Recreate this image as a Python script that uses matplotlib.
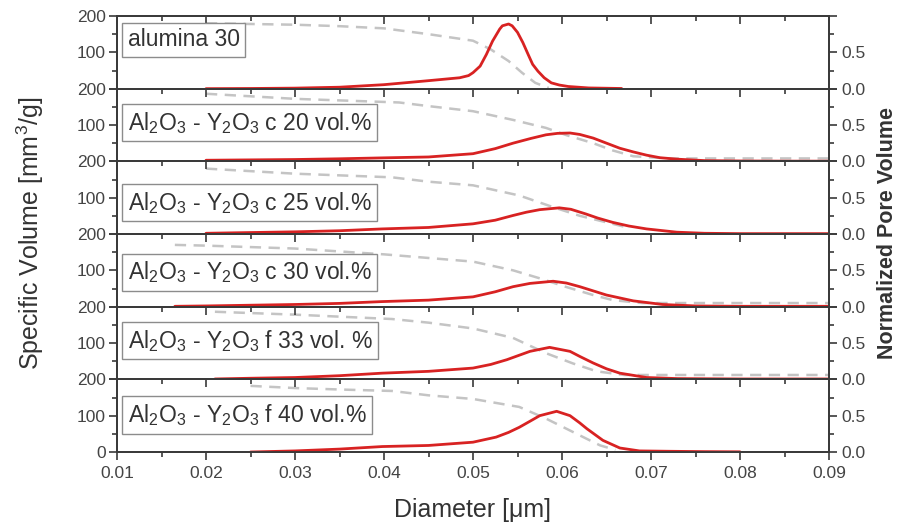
import matplotlib
matplotlib.use('Agg')
import matplotlib.pyplot as plt
from matplotlib.ticker import MultipleLocator, FixedLocator

plt.rcParams['font.family'] = ['Liberation Sans', 'DejaVu Sans']
plt.rcParams['mathtext.fontset'] = 'custom'
plt.rcParams['mathtext.rm'] = 'Liberation Sans'
plt.rcParams['mathtext.it'] = 'Liberation Sans:italic'
plt.rcParams['mathtext.bf'] = 'Liberation Sans:bold'

# sample names, one per panel (top to bottom)
labels = ['alumina 30',
          r'Al$_2$O$_3$ - Y$_2$O$_3$ c 20 vol.%',
          r'Al$_2$O$_3$ - Y$_2$O$_3$ c 25 vol.%',
          r'Al$_2$O$_3$ - Y$_2$O$_3$ c 30 vol.%',
          r'Al$_2$O$_3$ - Y$_2$O$_3$ f 33 vol. %',
          r'Al$_2$O$_3$ - Y$_2$O$_3$ f 40 vol.%']

# specific volume (mm3/g) vs diameter (um)
d_alu30 = [0.020, 0.025, 0.030, 0.035, 0.040, 0.045, 0.0485, 0.0495, 0.050, 0.0508, 0.0515, 0.0522, 0.053,
           0.0533, 0.054, 0.0544, 0.055, 0.0556, 0.0562, 0.0567, 0.0573, 0.058, 0.0588, 0.0597, 0.0607, 0.063, 0.0667]
v_alu30 = [0, 0.5, 1.5, 4, 11, 22, 30, 36, 44, 62, 94, 131, 164,
           173, 178, 173, 155, 127, 94, 67, 48, 30, 16, 10, 6, 2, 0.5]
d_c20 = [0.020, 0.025, 0.030, 0.035, 0.0398, 0.045, 0.050, 0.0525, 0.0545, 0.0565, 0.0582, 0.0595,
         0.0609, 0.062, 0.0635, 0.065, 0.0665, 0.068, 0.0695, 0.071, 0.0729, 0.076, 0.080, 0.085, 0.090]
v_c20 = [3, 4, 5, 7, 9.5, 12, 21, 35, 50, 63, 73, 77,
         78, 74, 64, 50, 36, 26, 17, 10, 6, 2, 1, 0.5, 0.5]
d_c25 = [0.020, 0.025, 0.030, 0.035, 0.0398, 0.045, 0.050, 0.0525, 0.0545, 0.056, 0.0575, 0.0597, 0.061, 0.0627,
         0.064, 0.0657, 0.0675, 0.0695, 0.0729, 0.076, 0.080, 0.090]
v_c25 = [2, 4, 6, 9, 14, 18, 28, 38, 51, 60, 67, 72, 68, 55,
         44, 32, 22, 14, 5, 2, 1, 1]
d_c30 = [0.0165, 0.020, 0.025, 0.030, 0.035, 0.0398, 0.045, 0.050, 0.0525, 0.0545, 0.0564, 0.059, 0.0605, 0.062,
         0.065, 0.068, 0.0713, 0.075, 0.080, 0.090]
v_c30 = [1, 2, 4, 6, 9, 14, 18, 27, 41, 55, 64, 70, 65, 55,
         32, 16, 6, 2, 1, 1]
d_f33 = [0.021, 0.025, 0.030, 0.035, 0.0398, 0.045, 0.050, 0.052, 0.0538, 0.0564, 0.0586, 0.0609, 0.062, 0.0635,
         0.065, 0.0665, 0.0695, 0.073, 0.080, 0.090]
v_f33 = [1, 3, 5, 10, 17, 22, 31, 41, 54, 77, 88, 77, 63, 45,
         29, 17, 5, 2, 1, 1]
d_f40 = [0.025, 0.030, 0.035, 0.0398, 0.045, 0.050, 0.0526, 0.054, 0.0552, 0.0565, 0.0575, 0.0594, 0.0609, 0.062,
         0.0628, 0.0646, 0.0665, 0.0687, 0.072, 0.076, 0.080]
v_f40 = [0, 3, 8, 15, 18, 27, 41, 54, 68, 86, 100, 112, 100, 80,
         64, 32, 11, 3, 2, 1, 0.5]

# normalized cumulative pore volume
cd_alu30 = [0.020, 0.025, 0.030, 0.035, 0.040, 0.045, 0.050, 0.052, 0.054, 0.0555, 0.057, 0.0585]
cv_alu30 = [0.90, 0.89, 0.88, 0.86, 0.83, 0.75, 0.66, 0.54, 0.38, 0.22, 0.08, 0.01]
cd_c20 = [0.020, 0.030, 0.0417, 0.045, 0.050, 0.0545, 0.0582, 0.0605, 0.0635, 0.0657, 0.068, 0.072, 0.080, 0.090]
cv_c20 = [0.93, 0.86, 0.81, 0.76, 0.69, 0.57, 0.46, 0.36, 0.25, 0.15, 0.07, 0.04, 0.04, 0.04]
cd_c25 = [0.020, 0.030, 0.0409, 0.045, 0.050, 0.0552, 0.059, 0.062, 0.0657, 0.067]
cv_c25 = [0.90, 0.83, 0.78, 0.72, 0.67, 0.53, 0.37, 0.25, 0.14, 0.10]
cd_c30 = [0.0165, 0.020, 0.030, 0.040, 0.045, 0.050, 0.0545, 0.0575, 0.0605, 0.0635, 0.0657, 0.069, 0.075, 0.080, 0.090]
cv_c30 = [0.85, 0.84, 0.80, 0.72, 0.67, 0.62, 0.50, 0.39, 0.27, 0.16, 0.09, 0.05, 0.05, 0.05, 0.05]
cd_f33 = [0.021, 0.030, 0.0409, 0.045, 0.050, 0.0545, 0.0582, 0.0612, 0.0639, 0.067, 0.072, 0.080, 0.090]
cv_f33 = [0.93, 0.89, 0.83, 0.78, 0.70, 0.57, 0.36, 0.22, 0.11, 0.06, 0.06, 0.06, 0.06]
cd_f40 = [0.025, 0.030, 0.035, 0.0409, 0.045, 0.050, 0.0552, 0.0582, 0.0605, 0.0628, 0.0643, 0.066]
cv_f40 = [0.91, 0.88, 0.86, 0.84, 0.78, 0.73, 0.62, 0.46, 0.32, 0.18, 0.09, 0.03]

diam = [d_alu30, d_c20, d_c25, d_c30, d_f33, d_f40]
vol = [v_alu30, v_c20, v_c25, v_c30, v_f33, v_f40]
cdiam = [cd_alu30, cd_c20, cd_c25, cd_c30, cd_f33, cd_f40]
cvol = [cv_alu30, cv_c20, cv_c25, cv_c30, cv_f33, cv_f40]

# where the label box sits in each panel (axes fraction)
label_y = [0.67, 0.53, 0.43, 0.47, 0.53, 0.51]

dark = '#3a3a3a'
tick_col = '#444444'

fig = plt.figure(figsize=(9.05, 5.26), dpi=100)
left, right, top, bottom = 117 / 905, 829 / 905, 1 - 16 / 526, 1 - 452 / 526
n = len(labels)
h = (top - bottom) / n

for i in range(n):
    ax = fig.add_axes([left, top - (i + 1) * h, right - left, h])
    tw = ax.twinx()
    tw.plot(cdiam[i], cvol[i], color='#c4c4c4', lw=1.8, dashes=(4.5, 3))
    ax.plot(diam[i], vol[i], color='#d82222', lw=2.0, solid_capstyle='round', solid_joinstyle='round')
    ax.set_zorder(tw.get_zorder() + 1)
    ax.patch.set_visible(False)

    ax.set_xlim(0.01, 0.09)
    ax.set_ylim(0, 200)
    tw.set_ylim(0, 1)

    ax.xaxis.set_major_locator(MultipleLocator(0.01))
    ax.xaxis.set_minor_locator(MultipleLocator(0.005))
    ax.yaxis.set_minor_locator(FixedLocator([50, 150]))
    tw.yaxis.set_minor_locator(FixedLocator([0.25, 0.75]))

    ax.set_yticks([0, 100, 200])
    if i == n - 1:
        ax.set_yticklabels(['0', '100', '200'])
        ax.tick_params(axis='x', which='both', bottom=True, top=False, direction='out',
                       labelbottom=True)
        ax.xaxis.set_major_formatter(plt.FuncFormatter(lambda v, p: '%.2f' % v))
        top_ax = ax.secondary_xaxis('top')
        top_ax.xaxis.set_major_locator(MultipleLocator(0.01))
        top_ax.xaxis.set_minor_locator(MultipleLocator(0.005))
        top_ax.tick_params(which='both', direction='in', labeltop=False, color=dark, width=1.2)
        top_ax.tick_params(which='major', length=6)
        top_ax.tick_params(which='minor', length=3.5)
        top_ax.spines['top'].set_visible(False)
    else:
        ax.set_yticklabels(['', '100', '200'])
        ax.tick_params(axis='x', which='both', bottom=False, top=True, direction='in',
                       labelbottom=False)
    tw.set_yticks([0, 0.5, 1.0])
    tw.set_yticklabels(['0.0', '0.5', ''])

    ax.tick_params(axis='x', which='major', length=6, width=1.2, color=dark,
                   labelsize=12.5, labelcolor=tick_col, pad=4)
    ax.tick_params(axis='x', which='minor', length=3.5, width=1.2, color=dark)
    ax.tick_params(axis='y', which='major', direction='out', length=6, width=1.2, color=dark,
                   labelsize=12.5, labelcolor=tick_col, pad=2)
    ax.tick_params(axis='y', which='minor', direction='out', length=3.5, width=1.2, color=dark)
    tw.tick_params(axis='y', which='major', direction='out', length=6, width=1.2, color=dark,
                   labelsize=12.5, labelcolor=tick_col, pad=3)
    tw.tick_params(axis='y', which='minor', direction='out', length=3.5, width=1.2, color=dark)

    for a in (ax, tw):
        for s in a.spines.values():
            s.set_color(dark)
            s.set_linewidth(1.3)

    ax.text(0.015, label_y[i], labels[i], transform=ax.transAxes, fontsize=16.5,
            color='#333333', va='center', ha='left',
            bbox=dict(boxstyle='square,pad=0.25', facecolor='white', edgecolor='#8c8c8c', lw=1.0))

fig.text(30 / 905, 1 - 233 / 526, 'Specific Volume [mm$^3$/g]', rotation=90,
         ha='center', va='center', fontsize=18, color='#333333')
fig.text(887 / 905, 1 - 233 / 526, 'Normalized Pore Volume', rotation=90,
         ha='center', va='center', fontsize=15.5, fontweight='bold', color='#333333')
fig.text(472 / 905, 0.031, 'Diameter [\u03bcm]', ha='center', va='center',
         fontsize=18, color='#333333')

fig.savefig('out.png', dpi=100)
